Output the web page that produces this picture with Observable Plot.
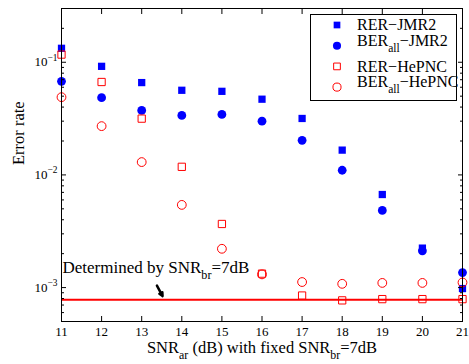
<!DOCTYPE html>
<html><head><meta charset="utf-8">
<script src="https://cdn.jsdelivr.net/npm/d3@7"></script>
<script src="https://cdn.jsdelivr.net/npm/@observablehq/plot@0.6"></script>
<style>body{margin:0;background:#fff}#chart{width:469px;height:364px}</style>
</head><body><div id="chart"></div>
<script>
// ---- data ----
const snr = [11, 12, 13, 14, 15, 16, 17, 18, 19, 20, 21];
const rerJMR2  = [0.133, 0.092, 0.066, 0.0564, 0.0552, 0.047, 0.0317, 0.0166, 0.0067, 0.00224, 0.00098];
const berJMR2  = [0.0677, 0.0485, 0.0374, 0.0337, 0.0344, 0.030, 0.0203, 0.0110, 0.00484, 0.00212, 0.00136];
const rerHePNC = [0.117, 0.0668, 0.0316, 0.0118, 0.00367, 0.00133, 0.00085, 0.00077, 0.00079, 0.00079, 0.00079];
const berHePNC = [0.049, 0.0271, 0.0130, 0.00542, 0.00221, 0.00131, 0.00112, 0.00108, 0.00110, 0.00110, 0.00111];
const boundValue = 7.8e-4;
const seriesNames = ["RER\u2212JMR2", "BER_{all}\u2212JMR2", "RER\u2212HePNC", "BER_{all}\u2212HePNC"];
const seriesColors = ["#0000ff", "#0000ff", "#ff0000", "#ff0000"];
const seriesSymbols = ["square", "circle", "square", "circle"];
const seriesFilled = [true, true, false, false];
const xTicks = [11, 12, 13, 14, 15, 16, 17, 18, 19, 20, 21];
const yMajorTicks = [1e-3, 1e-2, 1e-1];
const yMinorTicks = [6e-4, 7e-4, 8e-4, 9e-4, 2e-3, 3e-3, 4e-3, 5e-3, 6e-3, 7e-3, 8e-3, 9e-3,
  2e-2, 3e-2, 4e-2, 5e-2, 6e-2, 7e-2, 8e-2, 9e-2, 2e-1, 3e-1];
const xLabel = "SNR_{ar} (dB) with fixed SNR_{br}=7dB";
const yLabel = "Error rate";
const annotation = [{x: 11, y: 0.00136, text: "Determined by SNR_{br}=7dB"}];
const arrowData = [{x1: 13.38, y1: 0.00104, x2: 13.52, y2: 0.00084}];

const allSeries = [rerJMR2, berJMR2, rerHePNC, berHePNC];
const rows = [];
allSeries.forEach((vals, s) => vals.forEach((v, i) => rows.push({x: snr[i], y: v, s})));

const seriesMarks = allSeries.map((vals, s) => Plot.dot(rows.filter(d => d.s === s), {
  x: "x", y: "y",
  symbol: seriesSymbols[s],
  r: seriesSymbols[s] === "square" ? 4.1 : 4.4,
  fill: seriesFilled[s] ? seriesColors[s] : "none",
  stroke: seriesFilled[s] ? "none" : seriesColors[s],
  strokeWidth: 1
}));

const chart = Plot.plot({
  width: 469, height: 364,
  marginLeft: 61, marginRight: 7, marginTop: 8, marginBottom: 43,
  style: {fontFamily: "'Liberation Serif', 'Times New Roman', serif", fontSize: "13px", color: "black", background: "white"},
  x: {domain: [11, 21]},
  y: {type: "log", domain: [5e-4, 0.3]},
  marks: [
    Plot.ruleY([boundValue], {stroke: "#ff0000", strokeWidth: 2}),
    ...seriesMarks,
    Plot.frame({stroke: "black", strokeWidth: 1}),
    Plot.axisX(xTicks, {anchor: "bottom", tickSize: -5, tickPadding: 10, label: null, fontSize: 13}),
    Plot.axisX(xTicks, {anchor: "top", tickSize: -5, label: null, tickFormat: () => ""}),
    Plot.axisY(yMajorTicks, {anchor: "left", tickSize: -5, tickPadding: 9, label: null, fontSize: 13,
      tickFormat: d => "10^{\u2212" + Math.round(-Math.log10(d)) + "}"}),
    Plot.axisY(yMinorTicks, {anchor: "left", tickSize: -3, label: null, tickFormat: () => ""}),
    Plot.axisY(yMajorTicks, {anchor: "right", tickSize: -5, label: null, tickFormat: () => ""}),
    Plot.axisY(yMinorTicks, {anchor: "right", tickSize: -3, label: null, tickFormat: () => ""}),
    Plot.text([xLabel], {frameAnchor: "bottom", dy: 31, lineAnchor: "bottom", fontSize: 16.5, text: d => d}),
    Plot.text([yLabel], {frameAnchor: "left", dx: -43, rotate: -90, fontSize: 16.5, text: d => d}),
    Plot.text(annotation, {x: "x", y: "y", text: "text", textAnchor: "start", lineAnchor: "bottom", dx: 1, fontSize: 17}),
    Plot.arrow(arrowData, {x1: "x1", y1: "y1", x2: "x2", y2: "y2", stroke: "black", strokeWidth: 2.5, headLength: 9, headAngle: 50})
  ]
});
document.getElementById("chart").appendChild(chart);

// Convert _{..} and ^{..} markup in texts to sub/superscript tspans
function richify(textEl) {
  const s = textEl.textContent;
  if (!/[_^]\{/.test(s)) return;
  const fs = parseFloat(getComputedStyle(textEl).fontSize) || 13;
  const parts = s.split(/([_^]\{[^}]*\})/).filter(p => p.length);
  textEl.textContent = "";
  let shift = 0;
  parts.forEach(p => {
    const t = document.createElementNS("http://www.w3.org/2000/svg", "tspan");
    let target = 0, content = p, small = false;
    if (p.startsWith("_{")) { target = fs * 0.38; content = p.slice(2, -1); small = true; }
    else if (p.startsWith("^{")) { target = -fs * 0.45; content = p.slice(2, -1); small = true; }
    t.setAttribute("dy", (target - shift).toFixed(2));
    shift = target;
    if (small) t.setAttribute("font-size", (fs * 0.72).toFixed(1));
    t.textContent = content;
    textEl.appendChild(t);
  });
}
d3.select(chart).selectAll("text").each(function() { richify(this); });

// Legend inside plot area
const svg = d3.select(chart);
const lg = svg.append("g").attr("font-size", 16).attr("text-anchor", "start")
  .attr("font-family", "'Liberation Serif', 'Times New Roman', serif");
lg.append("rect").attr("x", 310.5).attr("y", 14.5).attr("width", 146).attr("height", 86)
  .attr("fill", "white").attr("stroke", "black").attr("stroke-width", 1);
seriesNames.forEach((name, i) => {
  const cy = 25 + i * 20.7;
  const sym = seriesSymbols[i] === "square" ? d3.symbolSquare : d3.symbolCircle;
  const size = seriesSymbols[i] === "square" ? Math.PI * 4.1 * 4.1 * 0.85 : Math.PI * 4.4 * 4.4 * 0.85;
  lg.append("path").attr("d", d3.symbol(sym, size)())
    .attr("transform", `translate(337,${cy})`)
    .attr("fill", seriesFilled[i] ? seriesColors[i] : "none")
    .attr("stroke", seriesFilled[i] ? "none" : seriesColors[i]);
  const t = lg.append("text").attr("x", 357).attr("y", cy).attr("dy", "0.32em")
    .attr("text-anchor", "start").attr("font-size", 16).text(name);
  richify(t.node());
});
</script>
</body></html>
